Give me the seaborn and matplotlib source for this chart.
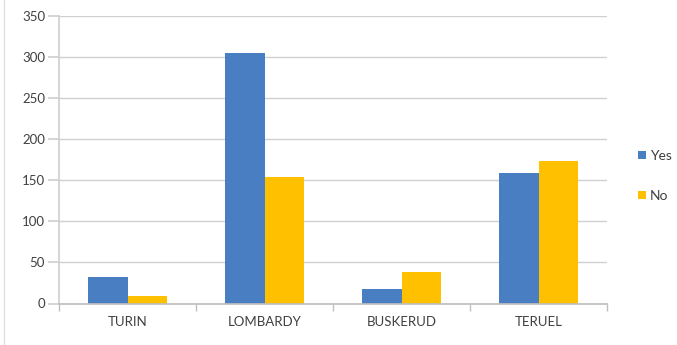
import matplotlib
matplotlib.use("Agg")
import matplotlib.pyplot as plt
import seaborn as sns
import pandas as pd

categories = ["TURIN", "LOMBARDY", "BUSKERUD", "TERUEL"]
yes_values = [32, 305, 18, 159]
no_values = [9, 154, 38, 173]
series_names = ["Yes", "No"]
y_ticks = [0, 50, 100, 150, 200, 250, 300, 350]

df = pd.DataFrame({
    "region": categories * 2,
    "series": [series_names[0]] * 4 + [series_names[1]] * 4,
    "value": yes_values + no_values,
})

sns.set_theme(style="white")
plt.rcParams["font.family"] = ["Lato", "DejaVu Sans"]

fig = plt.figure(figsize=(6.77, 3.45), dpi=100)
ax = fig.add_axes([59 / 677, 1 - 303.5 / 345, (607 - 59) / 677, (303.5 - 16) / 345])

sns.barplot(data=df, x="region", y="value", hue="series", order=categories,
            hue_order=series_names, palette=["#4A7EC2", "#FFC000"],
            width=0.57, saturation=1, linewidth=0, ax=ax, legend=True)

ax.set_ylim(0, 350)
ax.set_xlim(-0.5, 3.5)
ax.set_yticks(y_ticks)
ax.set_yticklabels([str(v) for v in y_ticks])
ax.set_xlabel("")
ax.set_ylabel("")
ax.grid(axis="y", color="#D0D0D0", linewidth=1)
ax.set_axisbelow(True)
for s in ["top", "right"]:
    ax.spines[s].set_visible(False)
ax.spines["left"].set_color("#D0D0D0")
ax.spines["bottom"].set_color("#BFBFBF")
ax.tick_params(axis="y", length=8, color="#D0D0D0", labelsize=9.5,
               labelcolor="#404040", pad=2, left=True)
ax.tick_params(axis="x", length=0, labelsize=9.5, labelcolor="#404040", pad=9)
ax.set_xticks(range(4))
ax.set_xticklabels(categories)
# category boundary tick marks
ax.set_xticks([-0.5, 0.5, 1.5, 2.5, 3.5], minor=True)
ax.tick_params(axis="x", which="minor", length=5, color="#BFBFBF", bottom=True)

leg = ax.legend(loc="center left", bbox_to_anchor=(638 / 677, 0.49),
                bbox_transform=fig.transFigure, frameon=False,
                borderpad=0, borderaxespad=0,
                handlelength=0.55, handleheight=0.55, handletextpad=0.3,
                labelspacing=2.0, fontsize=10)
for t in leg.get_texts():
    t.set_color("#404040")

fig.add_artist(plt.Line2D([3.5 / 677, 3.5 / 677], [0, 1], color="#E0E0E0",
                          linewidth=1, transform=fig.transFigure))

fig.savefig("out.png", dpi=100)
